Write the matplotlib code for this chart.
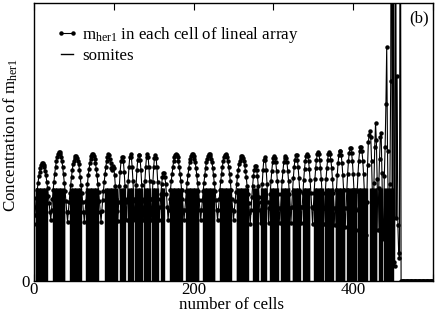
import numpy as np
import matplotlib
matplotlib.use("Agg")
import matplotlib.pyplot as plt
from matplotlib.lines import Line2D

# ---------------- data ----------------
# m_her1 concentration in each cell (cells 0..500)
m_her1 = [
    0.61, 0.71, 0.80, 0.90, 0.98, 1.06, 1.13, 1.18, 1.22, 1.25, 1.27, 1.27, 1.25, 1.23, 1.19, 1.14, 1.07, 1.00, 0.92, 0.84, 0.75,
    0.66, 0.77, 0.88, 0.98, 1.07, 1.16, 1.23, 1.29, 1.34, 1.37, 1.39, 1.39, 1.37, 1.34, 1.29, 1.23, 1.15, 1.06, 0.97, 0.86, 0.75,
    0.64, 0.75, 0.85, 0.95, 1.04, 1.12, 1.20, 1.26, 1.30, 1.33, 1.35, 1.35, 1.33, 1.30, 1.26, 1.20, 1.12, 1.04, 0.95, 0.85, 0.75,
    0.64, 0.75, 0.86, 0.96, 1.05, 1.14, 1.21, 1.27, 1.32, 1.35, 1.37, 1.37, 1.35, 1.32, 1.27, 1.21, 1.14, 1.05, 0.96, 0.86, 0.75,
    0.64, 0.76, 0.87, 0.97, 1.07, 1.15, 1.23, 1.29, 1.34, 1.37, 1.36, 1.32, 1.27, 1.22, 1.20, 1.24, 1.22, 1.14, 1.02, 0.89, 0.76,
    0.65, 0.85, 1.03, 1.18, 1.29, 1.34, 1.34, 1.29, 1.18, 1.03, 0.85,
    0.66, 0.88, 1.08, 1.23, 1.34, 1.37, 1.34, 1.23, 1.08, 0.88,
    0.66, 0.86, 1.04, 1.20, 1.31, 1.36, 1.36, 1.31, 1.20, 1.04, 0.86,
    0.66, 0.88, 1.08, 1.23, 1.34, 1.37, 1.34, 1.23, 1.08, 0.88,
    0.66, 0.88, 1.07, 1.23, 1.33, 1.36, 1.33, 1.23, 1.07, 0.88,
    0.66, 0.80, 0.94, 1.05, 1.12, 1.17, 1.17, 1.12, 1.05, 0.94, 0.80,
    0.66, 0.77, 0.88, 0.98, 1.08, 1.16, 1.23, 1.29, 1.34, 1.36, 1.37, 1.36, 1.34, 1.29, 1.23, 1.16, 1.08, 0.98, 0.88, 0.77,
    0.66, 0.77, 0.87, 0.97, 1.06, 1.14, 1.22, 1.28, 1.32, 1.35, 1.37, 1.37, 1.35, 1.32, 1.28, 1.22, 1.14, 1.06, 0.97, 0.87, 0.77,
    0.66, 0.77, 0.87, 0.97, 1.06, 1.14, 1.22, 1.28, 1.32, 1.35, 1.37, 1.37, 1.35, 1.32, 1.28, 1.22, 1.14, 1.06, 0.97, 0.87, 0.77,
    0.66, 0.77, 0.88, 0.98, 1.08, 1.16, 1.23, 1.29, 1.34, 1.36, 1.37, 1.36, 1.34, 1.29, 1.23, 1.16, 1.08, 0.98, 0.88, 0.77,
    0.66, 0.76, 0.86, 0.96, 1.05, 1.13, 1.20, 1.26, 1.30, 1.33, 1.35, 1.35, 1.33, 1.30, 1.25, 1.19, 1.12, 1.03, 0.94, 0.84, 0.73,
    0.62, 0.77, 0.91, 1.03, 1.13, 1.20, 1.24, 1.24, 1.20, 1.13, 1.03, 0.91, 0.77,
    0.63, 0.85, 1.05, 1.20, 1.31, 1.34, 1.31, 1.20, 1.05, 0.85,
    0.63, 0.79, 0.94, 1.08, 1.19, 1.28, 1.33, 1.35, 1.33, 1.28, 1.19, 1.08, 0.94, 0.79,
    0.63, 0.79, 0.94, 1.08, 1.19, 1.28, 1.33, 1.35, 1.33, 1.28, 1.19, 1.08, 0.94, 0.79,
    0.63, 0.80, 0.97, 1.11, 1.23, 1.31, 1.36, 1.36, 1.31, 1.23, 1.11, 0.97, 0.80,
    0.63, 0.80, 0.95, 1.09, 1.21, 1.30, 1.35, 1.37, 1.35, 1.30, 1.21, 1.09, 0.95, 0.80,
    0.62, 0.79, 0.95, 1.10, 1.22, 1.31, 1.37, 1.39, 1.37, 1.31, 1.22, 1.10, 0.95, 0.79,
    0.62, 0.79, 0.95, 1.10, 1.22, 1.31, 1.37, 1.39, 1.37, 1.31, 1.22, 1.10, 0.95, 0.79,
    0.60, 0.79, 0.98, 1.14, 1.27, 1.36, 1.40, 1.40, 1.36, 1.27, 1.14, 0.98, 0.79,
    0.58, 0.79, 0.98, 1.15, 1.29, 1.38, 1.43, 1.43, 1.38, 1.29, 1.15, 0.98, 0.79,
    0.55, 0.77, 0.97, 1.15, 1.30, 1.40, 1.45, 1.45, 1.40, 1.30, 1.15, 0.97, 0.77,
    0.50, 0.85, 1.25, 1.50, 1.58, 1.62, 1.55, 1.30, 0.95,
    0.60, 1.06, 1.45, 1.70, 1.52, 1.10, 0.55, 1.00, 1.32, 1.55, 1.60, 1.17, 0.62, 0.45,
    1.13, 1.45, 1.91, 2.53, 1.40, 0.75, 0.55, 1.05, 2.16,
    6.00, 0.45, 6.00, 0.20, 0.16, 6.00, 0.68, 2.21, 0.60, 0.30, 0.25, 6.00, 0.00,
    0.0, 0.0, 0.0, 0.0, 0.0, 0.0, 0.0, 0.0, 0.0, 0.0, 0.0, 0.0, 0.0, 0.0, 0.0, 0.0, 0.0, 0.0, 0.0, 0.0,
    0.0, 0.0, 0.0, 0.0, 0.0, 0.0, 0.0, 0.0, 0.0, 0.0, 0.0, 0.0, 0.0, 0.0, 0.0, 0.0, 0.0, 0.0, 0.0, 0.0,
]

# somites: first and last cell of each somite block
somite_start = [2, 24, 45, 65, 89, 108, 118, 127, 138, 148, 159, 171, 191, 212, 233, 254,
                275, 285, 296, 310, 324, 337, 351, 365, 378, 392, 406, 421, 432, 439, 445]
somite_end = [16, 38, 59, 80, 104, 114, 124, 135, 145, 155, 163, 185, 206, 226, 247, 268,
              281, 291, 306, 320, 333, 345, 362, 375, 389, 404, 417, 429, 436, 443, 450]
somite_level = 1.0

x_ticks = [0, 100, 200, 300, 400, 500]
x_tick_labels = ["0", "", "200", "", "400", ""]

# ---------------- figure ----------------
plt.rcParams["font.family"] = ["Liberation Serif", "DejaVu Serif"]
plt.rcParams["mathtext.fontset"] = "custom"
plt.rcParams["mathtext.rm"] = "Liberation Serif"
plt.rcParams["mathtext.it"] = "Liberation Serif:italic"
FS = 12.2

fig = plt.figure(figsize=(4.36, 3.12), dpi=100)
ax = fig.add_axes([34 / 436, 1 - 281 / 312, 399 / 436, 278 / 312])

cells = np.arange(len(m_her1))
m_arr = np.array(m_her1)

somites = np.zeros(len(m_her1))
for s, e in zip(somite_start, somite_end):
    somites[s:e + 1] = somite_level

ax.plot(cells, m_arr, color="black", lw=0.8, marker="o", ms=2.2,
        mec="black", mfc="black", zorder=2, clip_on=True)
nz = somites > 0
ax.vlines(cells[nz], 0, somites[nz], color="black", lw=1.0, zorder=3)

ax.set_xlim(0, 500)
ax.set_ylim(0, 3.0)
ax.set_xticks(x_ticks)
ax.set_xticklabels(x_tick_labels, fontsize=FS)
ax.set_yticks([0])
ax.set_yticklabels(["0"], fontsize=FS)
ax.tick_params(axis="x", direction="in", length=5, width=0.8, top=True, pad=1)
ax.tick_params(axis="y", direction="in", length=0, pad=3)
for sp in ax.spines.values():
    sp.set_linewidth(1.0)

ax.set_xlabel("number of cells", fontsize=FS)
ax.xaxis.set_label_coords(0.495, -0.058)
ax.set_ylabel(r"Concentration of m$_{\mathrm{her1}}$", fontsize=FS)
ax.yaxis.set_label_coords(-0.036, 0.525)

h1 = Line2D([], [], color="black", lw=0.8, marker="o", ms=2.2)
h2 = Line2D([], [], color="black", lw=1.0)
leg = ax.legend([h1, h2], [r"m$_{\mathrm{her1}}$ in each cell of lineal array", "somites"],
                loc="upper left", bbox_to_anchor=(0.055, 0.921), frameon=False,
                fontsize=FS, handlelength=1.3, handletextpad=0.25, numpoints=2,
                labelspacing=0.15, borderpad=0, borderaxespad=0)

ax.text(0.966, 0.945, "(b)", transform=ax.transAxes, fontsize=FS,
        ha="center", va="center")

fig.savefig("out.png", dpi=100)
